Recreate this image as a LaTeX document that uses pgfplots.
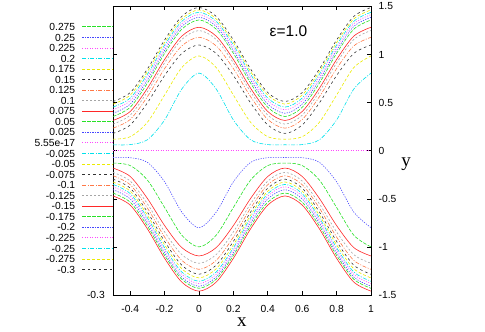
\documentclass[border=0pt]{standalone}
\usepackage{fontspec}
\setmainfont{Liberation Sans}
\setsansfont{Liberation Sans}
\newfontfamily\serif{Liberation Serif}
\usepackage{pgfplots}
\usepackage{pgfplotstable}
\pgfplotsset{compat=1.18}

\definecolor{gred}{RGB}{255,40,40}
\definecolor{ggreen}{RGB}{40,225,40}
\definecolor{gblue}{RGB}{70,70,255}
\definecolor{gmag}{RGB}{255,70,255}
\definecolor{gcyan}{RGB}{0,225,235}
\definecolor{gyellow}{RGB}{235,235,0}
\definecolor{gdark}{RGB}{50,50,50}
\definecolor{gcoral}{RGB}{255,120,70}
\definecolor{ggray}{RGB}{165,165,165}

\pgfplotsset{
  lt1/.style={gred, line width=0.6pt, solid},
  lt2/.style={ggreen, line width=0.6pt, dash pattern=on 3.5pt off 1.5pt},
  lt3/.style={gblue, line width=0.6pt, dash pattern=on 1.2pt off 1.3pt},
  lt4/.style={gmag, line width=0.6pt, dash pattern=on 1pt off 1.5pt},
  lt5/.style={gcyan, line width=0.6pt, dash pattern=on 4pt off 1.5pt on 1pt off 1.5pt},
  lt6/.style={gyellow, line width=0.6pt, dash pattern=on 3pt off 2pt},
  lt7/.style={gdark, line width=0.6pt, dash pattern=on 2.5pt off 3pt},
  lt8/.style={gcoral, line width=0.6pt, dash pattern=on 4pt off 1.5pt on 1pt off 1.5pt},
  lt9/.style={ggray, line width=0.6pt, dash pattern=on 2pt off 2pt},
}

% upper branches u1..u12 (inner to outer), lower branches l1..l12
\pgfplotstableread{
x    u1   u2   u3    u4    u5    u6    u7    u8    u9    u10   u11   u12   l1    l2    l3     l4     l5     l6     l7     l8     l9     l10    l11    l12
-0.5 0.062 0.120 0.180 0.235 0.277 0.315 0.356 0.390 0.426 0.454 0.485 0.512 -0.070 -0.128 -0.180 -0.225 -0.260 -0.295 -0.325 -0.350 -0.375 -0.405 -0.440 -0.470
-0.4 0.064 0.146 0.268 0.325 0.370 0.408 0.452 0.485 0.520 0.548 0.579 0.605 -0.072 -0.154 -0.267 -0.315 -0.353 -0.389 -0.420 -0.446 -0.471 -0.501 -0.535 -0.565
-0.3 0.114 0.296 0.498 0.562 0.613 0.650 0.703 0.735 0.768 0.795 0.823 0.850 -0.121 -0.305 -0.496 -0.552 -0.596 -0.637 -0.670 -0.698 -0.723 -0.752 -0.782 -0.812
-0.2 0.320 0.579 0.782 0.854 0.914 0.949 1.013 1.043 1.073 1.099 1.126 1.152 -0.323 -0.590 -0.778 -0.844 -0.897 -0.942 -0.978 -1.009 -1.033 -1.062 -1.088 -1.118
-0.1 0.642 0.865 1.012 1.090 1.157 1.192 1.264 1.293 1.321 1.346 1.371 1.397 -0.638 -0.878 -1.007 -1.080 -1.140 -1.190 -1.227 -1.261 -1.285 -1.313 -1.336 -1.366
0.0  0.807 0.986 1.100 1.180 1.250 1.284 1.360 1.388 1.415 1.440 1.464 1.490 -0.800 -1.000 -1.094 -1.170 -1.233 -1.284 -1.322 -1.357 -1.381 -1.409 -1.430 -1.460
0.1  0.642 0.865 1.012 1.090 1.157 1.192 1.264 1.293 1.321 1.346 1.371 1.397 -0.638 -0.878 -1.007 -1.080 -1.140 -1.190 -1.227 -1.261 -1.285 -1.313 -1.336 -1.366
0.2  0.320 0.579 0.782 0.854 0.914 0.949 1.013 1.043 1.073 1.099 1.126 1.152 -0.323 -0.590 -0.778 -0.844 -0.897 -0.942 -0.978 -1.009 -1.033 -1.062 -1.088 -1.118
0.3  0.114 0.296 0.498 0.562 0.613 0.650 0.703 0.735 0.768 0.795 0.823 0.850 -0.121 -0.305 -0.496 -0.552 -0.596 -0.637 -0.670 -0.698 -0.723 -0.752 -0.782 -0.812
0.4  0.064 0.146 0.268 0.325 0.370 0.408 0.452 0.485 0.520 0.548 0.579 0.605 -0.072 -0.154 -0.267 -0.315 -0.353 -0.389 -0.420 -0.446 -0.471 -0.501 -0.535 -0.565
0.5  0.062 0.120 0.180 0.235 0.277 0.315 0.356 0.390 0.426 0.454 0.485 0.512 -0.070 -0.128 -0.180 -0.225 -0.260 -0.295 -0.325 -0.350 -0.375 -0.405 -0.440 -0.470
0.6  0.064 0.146 0.268 0.325 0.370 0.408 0.452 0.485 0.520 0.548 0.579 0.605 -0.072 -0.154 -0.267 -0.315 -0.353 -0.389 -0.420 -0.446 -0.471 -0.501 -0.535 -0.565
0.7  0.114 0.296 0.498 0.562 0.613 0.650 0.703 0.735 0.768 0.795 0.823 0.850 -0.121 -0.305 -0.496 -0.552 -0.596 -0.637 -0.670 -0.698 -0.723 -0.752 -0.782 -0.812
0.8  0.320 0.579 0.782 0.854 0.914 0.949 1.013 1.043 1.073 1.099 1.126 1.152 -0.323 -0.590 -0.778 -0.844 -0.897 -0.942 -0.978 -1.009 -1.033 -1.062 -1.088 -1.118
0.9  0.642 0.865 1.012 1.090 1.157 1.192 1.264 1.293 1.321 1.346 1.371 1.397 -0.638 -0.878 -1.007 -1.080 -1.140 -1.190 -1.227 -1.261 -1.285 -1.313 -1.336 -1.366
1.0  0.807 0.986 1.100 1.180 1.250 1.284 1.360 1.388 1.415 1.440 1.464 1.490 -0.800 -1.000 -1.094 -1.170 -1.233 -1.284 -1.322 -1.357 -1.381 -1.409 -1.430 -1.460
}\curves

\begin{document}
\begin{tikzpicture}
\path[use as bounding box] (0,0) rectangle (485pt,332pt);
\begin{axis}[
    scale only axis,
    width=258pt, height=288.5pt,
    at={(113pt,37pt)}, anchor=south west,
    xmin=-0.5, xmax=1, ymin=-1.5, ymax=1.5,
    xtick={-0.4,-0.2,0,0.2,0.4,0.6,0.8,1},
    ytick={-1.5,-1,-0.5,0,0.5,1,1.5},
    xtick pos=both, ytick pos=both,
    xticklabel pos=lower, yticklabel pos=right,
    tick align=inside, major tick length=4pt,
    axis line style={black, line width=0.7pt},
    tick style={black, line width=0.6pt},
    /pgf/number format/assume math mode=true,
    ticklabel style={font=\fontsize{10.3}{12}\selectfont, inner sep=0pt},
    xticklabel style={anchor=north, yshift=-10pt},
    yticklabel style={anchor=west, xshift=7.5pt},
    every axis x label/.style={at={(axis description cs:0.5,-0.1088)}, anchor=base},
    every axis y label/.style={at={(axis description cs:1.1357,0.4447)}, anchor=base},
    xlabel={\serif\fontsize{19}{22}\selectfont x},
    ylabel={\serif\fontsize{19}{22}\selectfont y},
    legend style={draw=none, fill=none,
        at={(axis description cs:0.0155,0.9506)}, anchor=north east,
        font=\fontsize{10.3}{10.5}\selectfont,
        row sep=0pt, column sep=7pt,
        nodes={inner sep=0pt, text height=7.5pt, text depth=3.05pt}},
    legend plot pos=right,
    legend cell align=right,
    legend image code/.code={\draw[#1] (0pt,1.5pt) -- (31pt,1.5pt);},
    legend entries={0.275,0.25,0.225,0.2,0.175,0.15,0.125,0.1,0.075,0.05,0.025,5.55e-17,-0.025,-0.05,-0.075,-0.1,-0.125,-0.15,-0.175,-0.2,-0.225,-0.25,-0.275,-0.3},
    clip mode=individual,
]
\addlegendimage{lt2}
\addlegendimage{lt3}
\addlegendimage{lt4}
\addlegendimage{lt5}
\addlegendimage{lt6}
\addlegendimage{lt7}
\addlegendimage{lt8}
\addlegendimage{lt9}
\addlegendimage{lt1}
\addlegendimage{lt2}
\addlegendimage{lt3}
\addlegendimage{lt4}
\addlegendimage{lt5}
\addlegendimage{lt6}
\addlegendimage{lt7}
\addlegendimage{lt8}
\addlegendimage{lt9}
\addlegendimage{lt1}
\addlegendimage{lt2}
\addlegendimage{lt3}
\addlegendimage{lt4}
\addlegendimage{lt5}
\addlegendimage{lt6}
\addlegendimage{lt7}

% upper branches
\addplot[lt5, smooth, forget plot] table[x=x, y=u1] {\curves};
\addplot[lt6, smooth, forget plot] table[x=x, y=u2] {\curves};
\addplot[lt7, smooth, forget plot] table[x=x, y=u3] {\curves};
\addplot[lt8, smooth, forget plot] table[x=x, y=u4] {\curves};
\addplot[lt9, smooth, forget plot] table[x=x, y=u5] {\curves};
\addplot[lt1, smooth, forget plot] table[x=x, y=u6] {\curves};
\addplot[lt2, smooth, forget plot] table[x=x, y=u7] {\curves};
\addplot[lt3, smooth, forget plot] table[x=x, y=u8] {\curves};
\addplot[lt4, smooth, forget plot] table[x=x, y=u9] {\curves};
\addplot[lt5, smooth, forget plot] table[x=x, y=u10] {\curves};
\addplot[lt6, smooth, forget plot] table[x=x, y=u11] {\curves};
\addplot[lt7, smooth, forget plot] table[x=x, y=u12] {\curves};
% lower branches
\addplot[lt3, smooth, forget plot] table[x=x, y=l1] {\curves};
\addplot[lt2, smooth, forget plot] table[x=x, y=l2] {\curves};
\addplot[lt1, smooth, forget plot] table[x=x, y=l3] {\curves};
\addplot[lt9, smooth, forget plot] table[x=x, y=l4] {\curves};
\addplot[lt8, smooth, forget plot] table[x=x, y=l5] {\curves};
\addplot[lt7, smooth, forget plot] table[x=x, y=l6] {\curves};
\addplot[lt6, smooth, forget plot] table[x=x, y=l7] {\curves};
\addplot[lt5, smooth, forget plot] table[x=x, y=l8] {\curves};
\addplot[lt4, smooth, forget plot] table[x=x, y=l9] {\curves};
\addplot[lt3, smooth, forget plot] table[x=x, y=l10] {\curves};
\addplot[lt2, smooth, forget plot] table[x=x, y=l11] {\curves};
\addplot[lt1, smooth, forget plot] table[x=x, y=l12] {\curves};
% flat level
\addplot[lt4, forget plot] coordinates {(-0.5,0) (1,0)};

\node[font=\fontsize{15.5}{17}\selectfont] at (axis cs:0.52,1.245) {ε=1.0};
\node[font=\fontsize{10.3}{12}\selectfont, anchor=east, inner sep=0pt]
  at (axis description cs:-0.031,0) {-0.3};
\end{axis}
\end{tikzpicture}
\end{document}
